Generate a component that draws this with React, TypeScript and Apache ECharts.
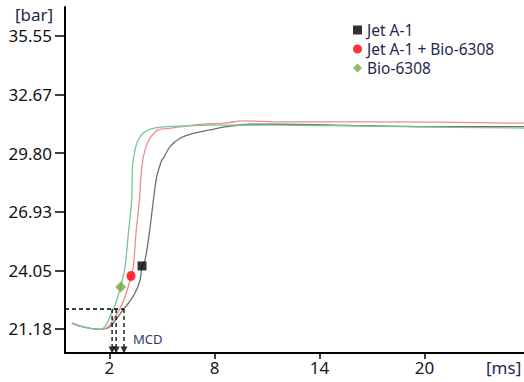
import React, { useEffect, useRef } from "react";
import * as echarts from "echarts";

// ---- data (time in ms, pressure in bar) ----
const xTicks = [2, 8, 14, 20];
const yTicks = [21.18, 24.05, 26.93, 29.8, 32.67, 35.55];

const jetA1: [number, number][] = [
  [-0.15, 21.46], [0.32, 21.32], [0.89, 21.21], [1.56, 21.16], [2.03, 21.29],
  [2.42, 21.7], [2.7, 22.03], [3.08, 22.44], [3.46, 22.94], [3.75, 23.58],
  [3.86, 24.27], [4.03, 24.56], [4.28, 25.89], [4.51, 27.5], [4.7, 28.65],
  [4.99, 29.47], [5.08, 29.55], [5.46, 30.12], [6.03, 30.53], [6.79, 30.77],
  [7.74, 30.94], [8.7, 31.1], [10.03, 31.22], [11.74, 31.22], [14.77, 31.18],
  [20.48, 31.1], [25.7, 31.1],
];

const jetA1Bio: [number, number][] = [
  [-0.15, 21.46], [0.32, 21.32], [0.89, 21.21], [1.56, 21.16], [1.94, 21.29],
  [2.26, 21.7], [2.6, 22.19], [2.89, 22.76], [3.18, 23.58], [3.23, 23.78],
  [3.36, 24.22], [3.52, 25.89], [3.71, 27.5], [3.84, 29.07], [4.03, 29.96],
  [4.32, 30.54], [4.79, 30.94], [5.46, 31.02], [6.79, 31.18], [8.7, 31.29],
  [9.63, 31.38], [11.74, 31.34], [17.05, 31.34], [25.7, 31.27],
];

const bio6308: [number, number][] = [
  [-0.15, 21.46], [0.32, 21.32], [0.89, 21.21], [1.46, 21.16], [1.75, 21.29],
  [2.03, 21.78], [2.32, 22.35], [2.64, 23.24], [2.89, 24.22], [3.08, 25.89],
  [3.27, 27.5], [3.31, 29.12], [3.36, 29.47], [3.56, 30.28], [3.93, 30.79],
  [4.51, 31.02], [5.27, 31.1], [6.03, 31.13], [7.74, 31.18], [11.74, 31.18],
  [14.77, 31.15], [18.6, 31.1], [25.7, 31.03],
];

const jetA1Marker: [number, number] = [3.86, 24.27];
const jetA1BioMarker: [number, number] = [3.23, 23.78];
const bio6308Marker: [number, number] = [2.64, 23.24];

const mcdThreshold = 22.16;
const mcdTimes = [2.15, 2.38, 2.83];
const mcdArrowLevel = 20.15;
const mcdLineBottom = 20.3;

const xMin = -0.54;
const xMax = 25.68;
const yMin = 20.0;
const yMax = 36.97;

const FONT = "Noto Sans";
const NAVY = "#1f2a4d";

export default function App() {
  const ref = useRef<HTMLDivElement>(null);

  useEffect(() => {
    if (!ref.current) return;
    const chart = echarts.init(ref.current, undefined, { renderer: "svg" });

    const dashedSeries: any[] = [
      {
        type: "line",
        data: [[xMin, mcdThreshold], [mcdTimes[mcdTimes.length - 1], mcdThreshold]],
        symbol: "none",
        lineStyle: { color: "#000", width: 1.5, type: [4, 3] },
        silent: true,
        z: 4,
      },
      ...mcdTimes.map((t) => ({
        type: "line",
        data: [[t, mcdThreshold], [t, mcdLineBottom]],
        symbol: "none",
        lineStyle: { color: "#000", width: 1.3, type: [4, 3] },
        silent: true,
        z: 4,
      })),
      {
        type: "scatter",
        data: mcdTimes.map((t) => [t, mcdArrowLevel]),
        symbol: "triangle",
        symbolRotate: 180,
        symbolSize: [7, 7],
        itemStyle: { color: "#000" },
        silent: true,
        z: 5,
      },
    ];

    chart.setOption({
      animation: false,
      backgroundColor: "#fff",
      grid: {
        left: 65,
        right: 0,
        top: 7,
        bottom: 29,
        containLabel: false,
        outerBoundsMode: "none",
      },
      xAxis: {
        type: "value",
        min: xMin,
        max: xMax,
        axisLine: { show: true, onZero: false, lineStyle: { color: "#000", width: 2 } },
        axisTick: {
          show: true,
          customValues: xTicks,
          length: 6,
          lineStyle: { color: "#000", width: 1.5 },
        },
        axisLabel: {
          customValues: xTicks,
          margin: 6,
          fontSize: 17,
          fontFamily: FONT,
          color: "#111827",
        },
        splitLine: { show: false },
      },
      yAxis: {
        type: "value",
        min: yMin,
        max: yMax,
        axisLine: { show: true, onZero: false, lineStyle: { color: "#000", width: 2 } },
        axisTick: {
          show: true,
          customValues: yTicks,
          length: 10,
          lineStyle: { color: "#000", width: 1.5 },
        },
        axisLabel: {
          customValues: yTicks,
          margin: 13,
          fontSize: 17,
          fontFamily: FONT,
          color: "#111",
          formatter: (v: number) => v.toFixed(2),
        },
        splitLine: { show: false },
      },
      legend: {
        orient: "vertical",
        left: 353,
        top: 22,
        padding: 0,
        itemGap: 3,
        itemWidth: 9,
        itemHeight: 9,
        textStyle: { fontSize: 15.5, lineHeight: 16, fontFamily: FONT, color: NAVY },
        data: [
          { name: "Jet A-1", icon: "rect" },
          { name: "Jet A-1 + Bio-6308", icon: "circle" },
          { name: "Bio-6308", icon: "diamond" },
        ],
      },
      graphic: [
        {
          type: "text",
          left: 15,
          top: 6,
          style: { text: "[bar]", fontSize: 17, fontFamily: FONT, fill: NAVY },
        },
        {
          type: "text",
          left: 486,
          top: 359,
          style: { text: "[ms]", fontSize: 17, fontFamily: FONT, fill: NAVY },
        },
        {
          type: "text",
          left: 133,
          top: 332,
          style: { text: "MCD", fontSize: 13, fontFamily: FONT, fill: "#2a3a6a" },
        },
      ],
      series: [
        {
          name: "Jet A-1 curve",
          type: "line",
          data: jetA1,
          symbol: "none",
          smooth: 0.3,
          lineStyle: { color: "#6e6e6e", width: 1.3 },
          z: 2,
        },
        {
          name: "Jet A-1 + Bio-6308 curve",
          type: "line",
          data: jetA1Bio,
          symbol: "none",
          smooth: 0.3,
          lineStyle: { color: "#f08c8c", width: 1.3 },
          z: 2,
        },
        {
          name: "Bio-6308 curve",
          type: "line",
          data: bio6308,
          symbol: "none",
          smooth: 0.3,
          lineStyle: { color: "#79c49a", width: 1.3 },
          z: 2,
        },
        ...dashedSeries,
        {
          name: "Jet A-1",
          type: "scatter",
          data: [jetA1Marker],
          symbol: "rect",
          symbolSize: 9,
          itemStyle: { color: "#000" },
          z: 6,
        },
        {
          name: "Jet A-1 + Bio-6308",
          type: "scatter",
          data: [jetA1BioMarker],
          symbol: "circle",
          symbolSize: [9, 10],
          itemStyle: { color: "#ff0000" },
          z: 6,
        },
        {
          name: "Bio-6308",
          type: "scatter",
          data: [bio6308Marker],
          symbol: "diamond",
          symbolSize: 11,
          itemStyle: { color: "#70a844" },
          z: 6,
        },
      ],
    });

    return () => chart.dispose();
  }, []);

  return (
    <div
      ref={ref}
      style={{ position: "absolute", left: 0, top: 0, width: 524, height: 382 }}
    />
  );
}
